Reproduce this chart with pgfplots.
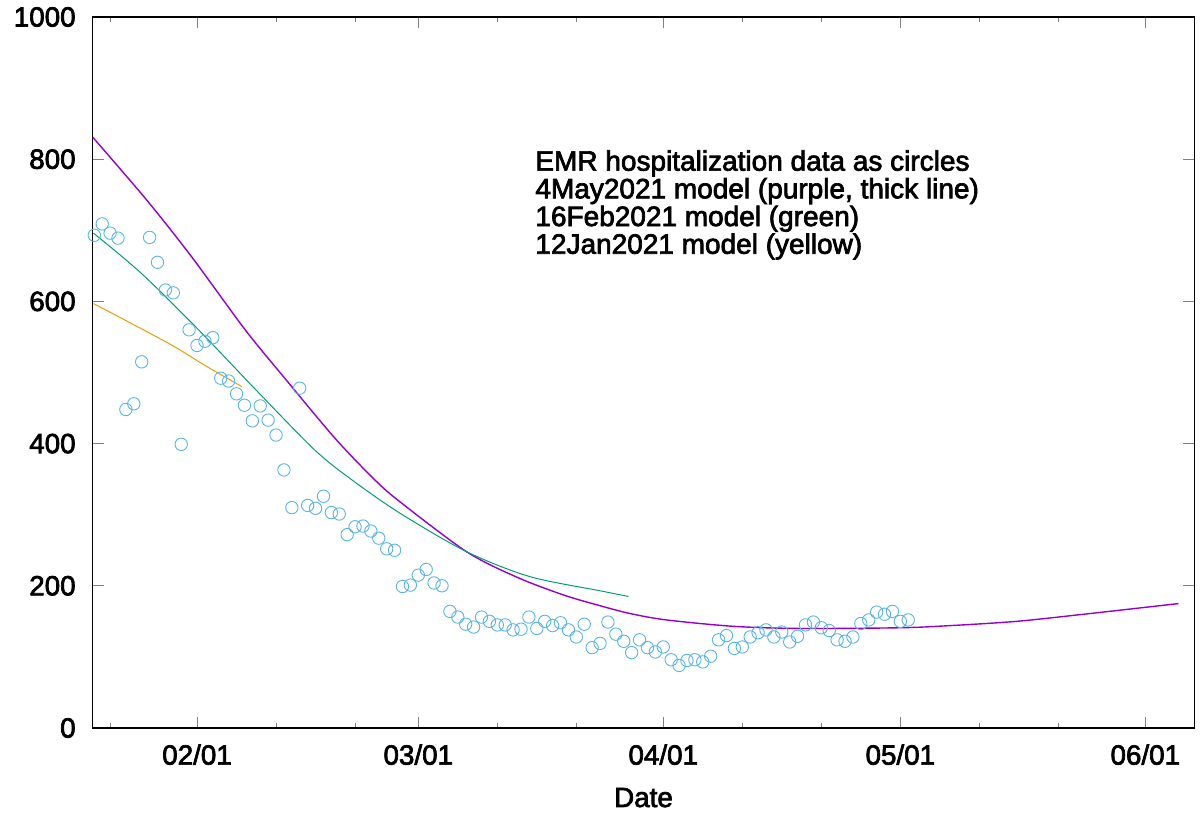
\documentclass[border=0pt]{standalone}
\usepackage{fontspec}
\setmainfont{Liberation Sans}[FakeBold=2.5]
\usepackage{pgfplots}
\pgfplotsset{compat=1.18}
\definecolor{cpurple}{HTML}{9400D3}
\definecolor{cgreen}{HTML}{009E73}
\definecolor{cblue}{HTML}{56B4E9}
\definecolor{corange}{HTML}{E69F00}
\begin{document}
\begin{tikzpicture}
\begin{axis}[
  scale only axis, width=550.8pt, height=355.5pt,
  at={(0,0)}, anchor=south west,
  xmin=18.8, xmax=158.2, ymin=0, ymax=1000,
  xtick={32,60,91,121,152},
  xticklabels={02/01,03/01,04/01,05/01,06/01},
  minor xtick={21,42,52,70,80,101,111,131,141},
  ytick={0,200,400,600,800,1000},
  tick align=inside,
  major tick length=5.5pt, minor tick length=2.5pt,
  every tick/.style={gray, line width=0.5pt},
  axis line style={black, line width=0.6pt},
  /pgf/number format/assume math mode=true,
  /pgf/number format/set thousands separator={},
  tick label style={font=\fontsize{13.9}{14}\selectfont},
  yticklabel style={anchor=east, xshift=-5pt},
  xticklabel style={anchor=north, yshift=-4.7pt},
  xlabel={Date},
  xlabel style={at={(axis description cs:0.5,0)}, anchor=north, yshift=-26.4pt, font=\fontsize{13.9}{14}\selectfont},
]
\addplot[only marks, mark=o, mark size=3.1pt, cblue, mark options={line width=0.45pt}] coordinates {
(19,693) (20,709) (21,696) (22,689) (23,448) (24,456) (25,515) (26,690) (27,655) (28,616)
(29,612) (30,399) (31,560) (32,538) (33,544) (34,549) (35,492) (36,488) (37,470) (38,454)
(39,432) (40,453) (41,433) (42,412) (43,363) (44,310) (45,478) (46,313) (47,309) (48,326)
(49,303) (50,301) (51,272) (52,283) (53,284) (54,277) (55,267) (56,252) (57,250) (58,199)
(59,201) (60,215) (61,223) (62,204) (63,200) (64,164) (65,156) (66,146) (67,142) (68,156)
(69,150) (70,145) (71,145) (72,138) (73,139) (74,156) (75,140) (76,150) (77,144) (78,148)
(79,138) (80,128) (81,146) (82,113) (83,119) (84,149) (85,132) (86,122) (87,106) (88,124)
(89,113) (90,107) (91,114) (92,96) (93,88) (94,95) (95,96) (96,93) (97,101) (98,124)
(99,130) (100,112) (101,114) (102,128) (103,134) (104,138) (105,128) (106,135) (107,121) (108,129)
(109,145) (110,149) (111,141) (112,137) (113,124) (114,122) (115,128) (116,147) (117,152) (118,163)
(119,160) (120,164) (121,150) (122,152)
};
\addplot[cpurple, line width=0.7pt, smooth, tension=0.5] coordinates {
(18.8,831) (25.6,743) (31.3,663) (38.1,560) (43.1,492) (49.5,407) (54.5,349) (57.7,318)
(66.1,248) (72.5,212) (78.4,187) (83.0,172) (86.8,161) (91.4,152) (99.9,143)
(108.3,140) (121.0,141) (127.3,144) (135.7,150) (144.2,160) (156.2,175)
};
\addplot[cgreen, line width=0.5pt, smooth, tension=0.5] coordinates {
(18.9,696) (25.0,639) (32.2,560) (39.5,475) (46.9,391) (51.6,349) (57.7,302) (66.1,248)
(74.1,213) (83.0,193) (86.6,185)
};
\addplot[corange, line width=0.5pt, smooth, tension=0.5] coordinates {
(18.9,597) (28.4,541) (33.0,510) (37.7,480)
};
\node[anchor=north west, align=left, inner sep=0pt, font=\fontsize{14}{13.85}\selectfont]
  at (rel axis cs:0.4015,0.813)
  {EMR hospitalization data as circles\\4May2021 model (purple, thick line)\\16Feb2021 model (green)\\12Jan2021 model (yellow)};
\end{axis}
\pgfresetboundingbox
\path[use as bounding box] (-46.35pt,-43pt) rectangle (555.65pt,364pt);
\end{tikzpicture}
\end{document}
